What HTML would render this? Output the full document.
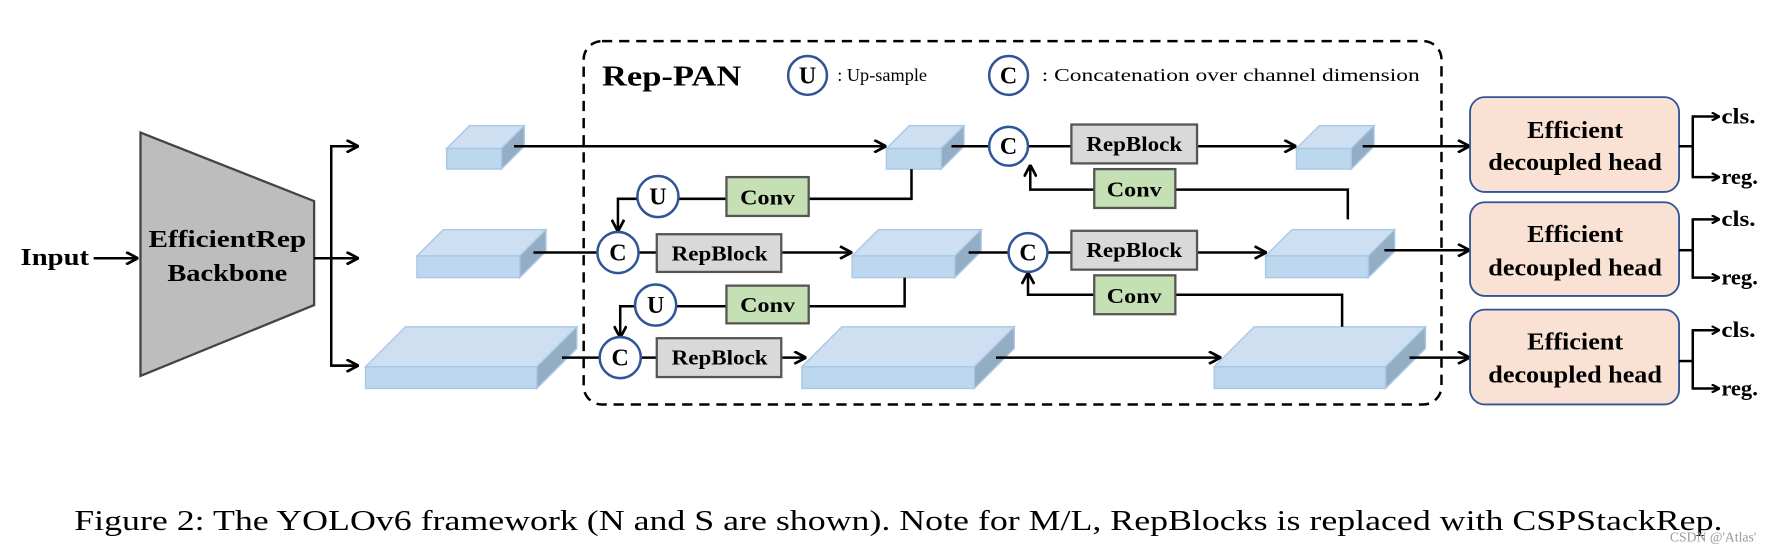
<!DOCTYPE html>
<html><head><meta charset="utf-8"><style>
html,body{margin:0;padding:0;background:#fff;width:1791px;height:553px;overflow:hidden}
svg{display:block}
text{font-family:"Liberation Serif","DejaVu Serif",serif}
.b{font-weight:bold}
</style></head><body>
<svg width="1791" height="553" viewBox="0 0 1568 484" preserveAspectRatio="none" xmlns="http://www.w3.org/2000/svg">
<defs>
<marker id="a" viewBox="0 0 10 10" refX="9" refY="5" markerWidth="8" markerHeight="8" orient="auto" markerUnits="userSpaceOnUse">
<path d="M1,0.5 L9.5,5 L1,9.5" fill="none" stroke="#000" stroke-width="2.4"/>
</marker>
<marker id="h" viewBox="0 0 10 10" refX="9" refY="5" markerWidth="12" markerHeight="12" orient="auto" markerUnits="userSpaceOnUse">
<path d="M1,0.5 L9.5,5 L1,9.5" fill="none" stroke="#000" stroke-width="2"/>
</marker>
</defs>
<g stroke="#000" stroke-width="2.2" fill="none">
<rect x="511" y="36" width="751" height="318" rx="16" stroke-dasharray="9,6"/>
</g>
<circle cx="707" cy="66" r="17" fill="#fff" stroke="#2f5597" stroke-width="2.2"/>
<text x="707" y="73" text-anchor="middle" class="b" font-size="21">U</text>
<text x="733" y="71" font-size="16">: Up-sample</text>
<circle cx="883" cy="66" r="17" fill="#fff" stroke="#2f5597" stroke-width="2.2"/>
<text x="883" y="73" text-anchor="middle" class="b" font-size="21">C</text>
<text x="912" y="71" font-size="16" textLength="331" lengthAdjust="spacingAndGlyphs">: Concatenation over channel dimension</text>
<text x="527" y="75" class="b" font-size="25" textLength="122" lengthAdjust="spacingAndGlyphs">Rep-PAN</text>

<text x="18" y="232" class="b" font-size="21" textLength="60" lengthAdjust="spacingAndGlyphs">Input</text>
<line x1="82" y1="226" x2="120" y2="226" stroke="#000" stroke-width="2.2" marker-end="url(#h)"/>
<polygon points="123,116 275,176 275,267 123,329" fill="#bdbdbd" stroke="#444" stroke-width="2"/>
<text x="199" y="216" text-anchor="middle" class="b" font-size="21" textLength="138" lengthAdjust="spacingAndGlyphs">EfficientRep</text>
<text x="199" y="246" text-anchor="middle" class="b" font-size="21" textLength="105" lengthAdjust="spacingAndGlyphs">Backbone</text>
<g stroke="#000" stroke-width="2.2" fill="none">
<line x1="275" y1="226" x2="290" y2="226"/>
<polyline points="313,128 290,128 290,320 313,320"/>
<line x1="290" y1="128" x2="313" y2="128" marker-end="url(#h)"/>
<line x1="290" y1="226" x2="313" y2="226" marker-end="url(#h)"/>
<line x1="290" y1="320" x2="313" y2="320" marker-end="url(#h)"/>
</g>

<g stroke="#a9c8e6" stroke-width="1.2">
<g transform="translate(391,130)"><polygon points="0,0 20,-20 68,-20 48,0" fill="#cddff0"/><polygon points="48,0 68,-20 68,-2 48,18" fill="#93aec4"/><rect x="0" y="0" width="48" height="18" fill="#bcd7ee"/></g>
<g transform="translate(776,130)"><polygon points="0,0 20,-20 68,-20 48,0" fill="#cddff0"/><polygon points="48,0 68,-20 68,-2 48,18" fill="#93aec4"/><rect x="0" y="0" width="48" height="18" fill="#bcd7ee"/></g>
<g transform="translate(1135,130)"><polygon points="0,0 20,-20 68,-20 48,0" fill="#cddff0"/><polygon points="48,0 68,-20 68,-2 48,18" fill="#93aec4"/><rect x="0" y="0" width="48" height="18" fill="#bcd7ee"/></g>
<g transform="translate(365,224)"><polygon points="0,0 23,-23 113,-23 90,0" fill="#cddff0"/><polygon points="90,0 113,-23 113,-4 90,19" fill="#93aec4"/><rect x="0" y="0" width="90" height="19" fill="#bcd7ee"/></g>
<g transform="translate(746,224)"><polygon points="0,0 23,-23 113,-23 90,0" fill="#cddff0"/><polygon points="90,0 113,-23 113,-4 90,19" fill="#93aec4"/><rect x="0" y="0" width="90" height="19" fill="#bcd7ee"/></g>
<g transform="translate(1108,224)"><polygon points="0,0 23,-23 113,-23 90,0" fill="#cddff0"/><polygon points="90,0 113,-23 113,-4 90,19" fill="#93aec4"/><rect x="0" y="0" width="90" height="19" fill="#bcd7ee"/></g>
<g transform="translate(320,321)"><polygon points="0,0 35,-35 185,-35 150,0" fill="#cddff0"/><polygon points="150,0 185,-35 185,-16 150,19" fill="#93aec4"/><rect x="0" y="0" width="150" height="19" fill="#bcd7ee"/></g>
<g transform="translate(702,321)"><polygon points="0,0 35,-35 186,-35 151,0" fill="#cddff0"/><polygon points="151,0 186,-35 186,-16 151,19" fill="#93aec4"/><rect x="0" y="0" width="151" height="19" fill="#bcd7ee"/></g>
<g transform="translate(1063,321)"><polygon points="0,0 35,-35 185,-35 150,0" fill="#cddff0"/><polygon points="150,0 185,-35 185,-16 150,19" fill="#93aec4"/><rect x="0" y="0" width="150" height="19" fill="#bcd7ee"/></g>
</g>

<g stroke="#000" stroke-width="2.2" fill="none">
<line x1="450" y1="128" x2="775" y2="128" marker-end="url(#h)"/>
<line x1="833" y1="128" x2="866" y2="128"/>
<line x1="900" y1="128" x2="938" y2="128"/>
<line x1="1048" y1="128" x2="1134" y2="128" marker-end="url(#h)"/>
<line x1="1193" y1="128" x2="1286" y2="128" marker-end="url(#h)"/>
<polyline points="1029,166 1180,166 1180,192"/>
<polyline points="958,166 902,166 902,145" marker-end="url(#h)"/>
<line x1="467" y1="221" x2="523" y2="221"/>
<line x1="559" y1="221" x2="575" y2="221"/>
<line x1="684" y1="221" x2="745" y2="221" marker-end="url(#h)"/>
<polyline points="708,174 798,174 798,148"/>
<line x1="594" y1="174" x2="636" y2="174"/>
<polyline points="558,174 541,174 541,202" marker-end="url(#h)"/>
<line x1="848" y1="221" x2="883" y2="221"/>
<line x1="917" y1="221" x2="938" y2="221"/>
<line x1="1048" y1="221" x2="1108" y2="221" marker-end="url(#h)"/>
<line x1="1212" y1="219" x2="1286" y2="219" marker-end="url(#h)"/>
<polyline points="1029,258 1175,258 1175,286"/>
<polyline points="958,258 900,258 900,239" marker-end="url(#h)"/>
<line x1="492" y1="313" x2="525" y2="313"/>
<line x1="561" y1="313" x2="575" y2="313"/>
<line x1="684" y1="313" x2="705" y2="313" marker-end="url(#h)"/>
<polyline points="708,268 792,268 792,243"/>
<line x1="592" y1="268" x2="636" y2="268"/>
<polyline points="556,268 543,268 543,295" marker-end="url(#h)"/>
<line x1="872" y1="313" x2="1068" y2="313" marker-end="url(#h)"/>
<line x1="1234" y1="313" x2="1286" y2="313" marker-end="url(#h)"/>
</g>

<g fill="#fff" stroke="#2f5597" stroke-width="2.2">
<circle cx="883" cy="128" r="17"/><circle cx="900" cy="221" r="17"/>
<circle cx="541" cy="221" r="18"/><circle cx="543" cy="313" r="18"/>
<circle cx="576" cy="172" r="18"/><circle cx="574" cy="267" r="18"/>
</g>
<g class="b" font-size="21" text-anchor="middle">
<text x="883" y="135" class="b">C</text><text x="900" y="228" class="b">C</text>
<text x="541" y="228" class="b">C</text><text x="543" y="320" class="b">C</text>
<text x="576" y="179" class="b">U</text><text x="574" y="274" class="b">U</text>
</g>

<g fill="#d9d9d9" stroke="#555" stroke-width="2">
<rect x="938" y="109" width="110" height="34"/><rect x="938" y="202" width="110" height="34"/>
<rect x="575" y="205" width="109" height="33"/><rect x="575" y="296" width="109" height="34"/>
</g>
<g fill="#c5e0b4" stroke="#555" stroke-width="2">
<rect x="958" y="148" width="71" height="34"/><rect x="958" y="241" width="71" height="34"/>
<rect x="636" y="155" width="72" height="34"/><rect x="636" y="250" width="72" height="33"/>
</g>
<g font-size="18" text-anchor="middle">
<text x="993" y="132" class="b" textLength="84" lengthAdjust="spacingAndGlyphs">RepBlock</text>
<text x="993" y="225" class="b" textLength="84" lengthAdjust="spacingAndGlyphs">RepBlock</text>
<text x="630" y="228" class="b" textLength="84" lengthAdjust="spacingAndGlyphs">RepBlock</text>
<text x="630" y="319" class="b" textLength="84" lengthAdjust="spacingAndGlyphs">RepBlock</text>
<text x="993" y="172" class="b" textLength="48" lengthAdjust="spacingAndGlyphs">Conv</text><text x="993" y="265" class="b" textLength="48" lengthAdjust="spacingAndGlyphs">Conv</text>
<text x="672" y="179" class="b" textLength="48" lengthAdjust="spacingAndGlyphs">Conv</text><text x="672" y="273" class="b" textLength="48" lengthAdjust="spacingAndGlyphs">Conv</text>
</g>

<g fill="#f9e1d4" stroke="#2f5597" stroke-width="1.6">
<rect x="1287" y="85" width="183" height="83" rx="13"/>
<rect x="1287" y="177" width="183" height="82" rx="13"/>
<rect x="1287" y="271" width="183" height="83" rx="13"/>
</g>
<g font-size="21" text-anchor="middle" class="b">
<text x="1379" y="121" class="b" textLength="84" lengthAdjust="spacingAndGlyphs">Efficient</text>
<text x="1379" y="149" class="b" textLength="152" lengthAdjust="spacingAndGlyphs">decoupled head</text>
<text x="1379" y="212" class="b" textLength="84" lengthAdjust="spacingAndGlyphs">Efficient</text>
<text x="1379" y="241" class="b" textLength="152" lengthAdjust="spacingAndGlyphs">decoupled head</text>
<text x="1379" y="306" class="b" textLength="84" lengthAdjust="spacingAndGlyphs">Efficient</text>
<text x="1379" y="335" class="b" textLength="152" lengthAdjust="spacingAndGlyphs">decoupled head</text>
</g>
<g stroke="#000" stroke-width="2.2" fill="none">
<line x1="1470" y1="128" x2="1482" y2="128"/><line x1="1482" y1="102" x2="1482" y2="155"/>
<line x1="1481" y1="102" x2="1505" y2="102" marker-end="url(#a)"/><line x1="1481" y1="155" x2="1505" y2="155" marker-end="url(#a)"/>
<line x1="1470" y1="219" x2="1482" y2="219"/><line x1="1482" y1="192" x2="1482" y2="243"/>
<line x1="1481" y1="192" x2="1505" y2="192" marker-end="url(#a)"/><line x1="1481" y1="243" x2="1505" y2="243" marker-end="url(#a)"/>
<line x1="1470" y1="316" x2="1482" y2="316"/><line x1="1482" y1="289" x2="1482" y2="340"/>
<line x1="1481" y1="289" x2="1505" y2="289" marker-end="url(#a)"/><line x1="1481" y1="340" x2="1505" y2="340" marker-end="url(#a)"/>
</g>
<g font-size="19" class="b">
<text x="1507" y="108" class="b" textLength="30" lengthAdjust="spacingAndGlyphs">cls.</text><text x="1507" y="161" class="b" textLength="32" lengthAdjust="spacingAndGlyphs">reg.</text>
<text x="1507" y="198" class="b" textLength="30" lengthAdjust="spacingAndGlyphs">cls.</text><text x="1507" y="249" class="b" textLength="32" lengthAdjust="spacingAndGlyphs">reg.</text>
<text x="1507" y="295" class="b" textLength="30" lengthAdjust="spacingAndGlyphs">cls.</text><text x="1507" y="346" class="b" textLength="32" lengthAdjust="spacingAndGlyphs">reg.</text>
</g>

<text x="65" y="464" font-size="25" textLength="1443" lengthAdjust="spacingAndGlyphs">Figure 2: The YOLOv6 framework (N and S are shown). Note for M/L, RepBlocks is replaced with CSPStackRep.</text>
<text x="1462" y="474" font-size="12" fill="#999" font-family="Liberation Sans, sans-serif">CSDN @'Atlas'</text>
</svg>
</body></html>
